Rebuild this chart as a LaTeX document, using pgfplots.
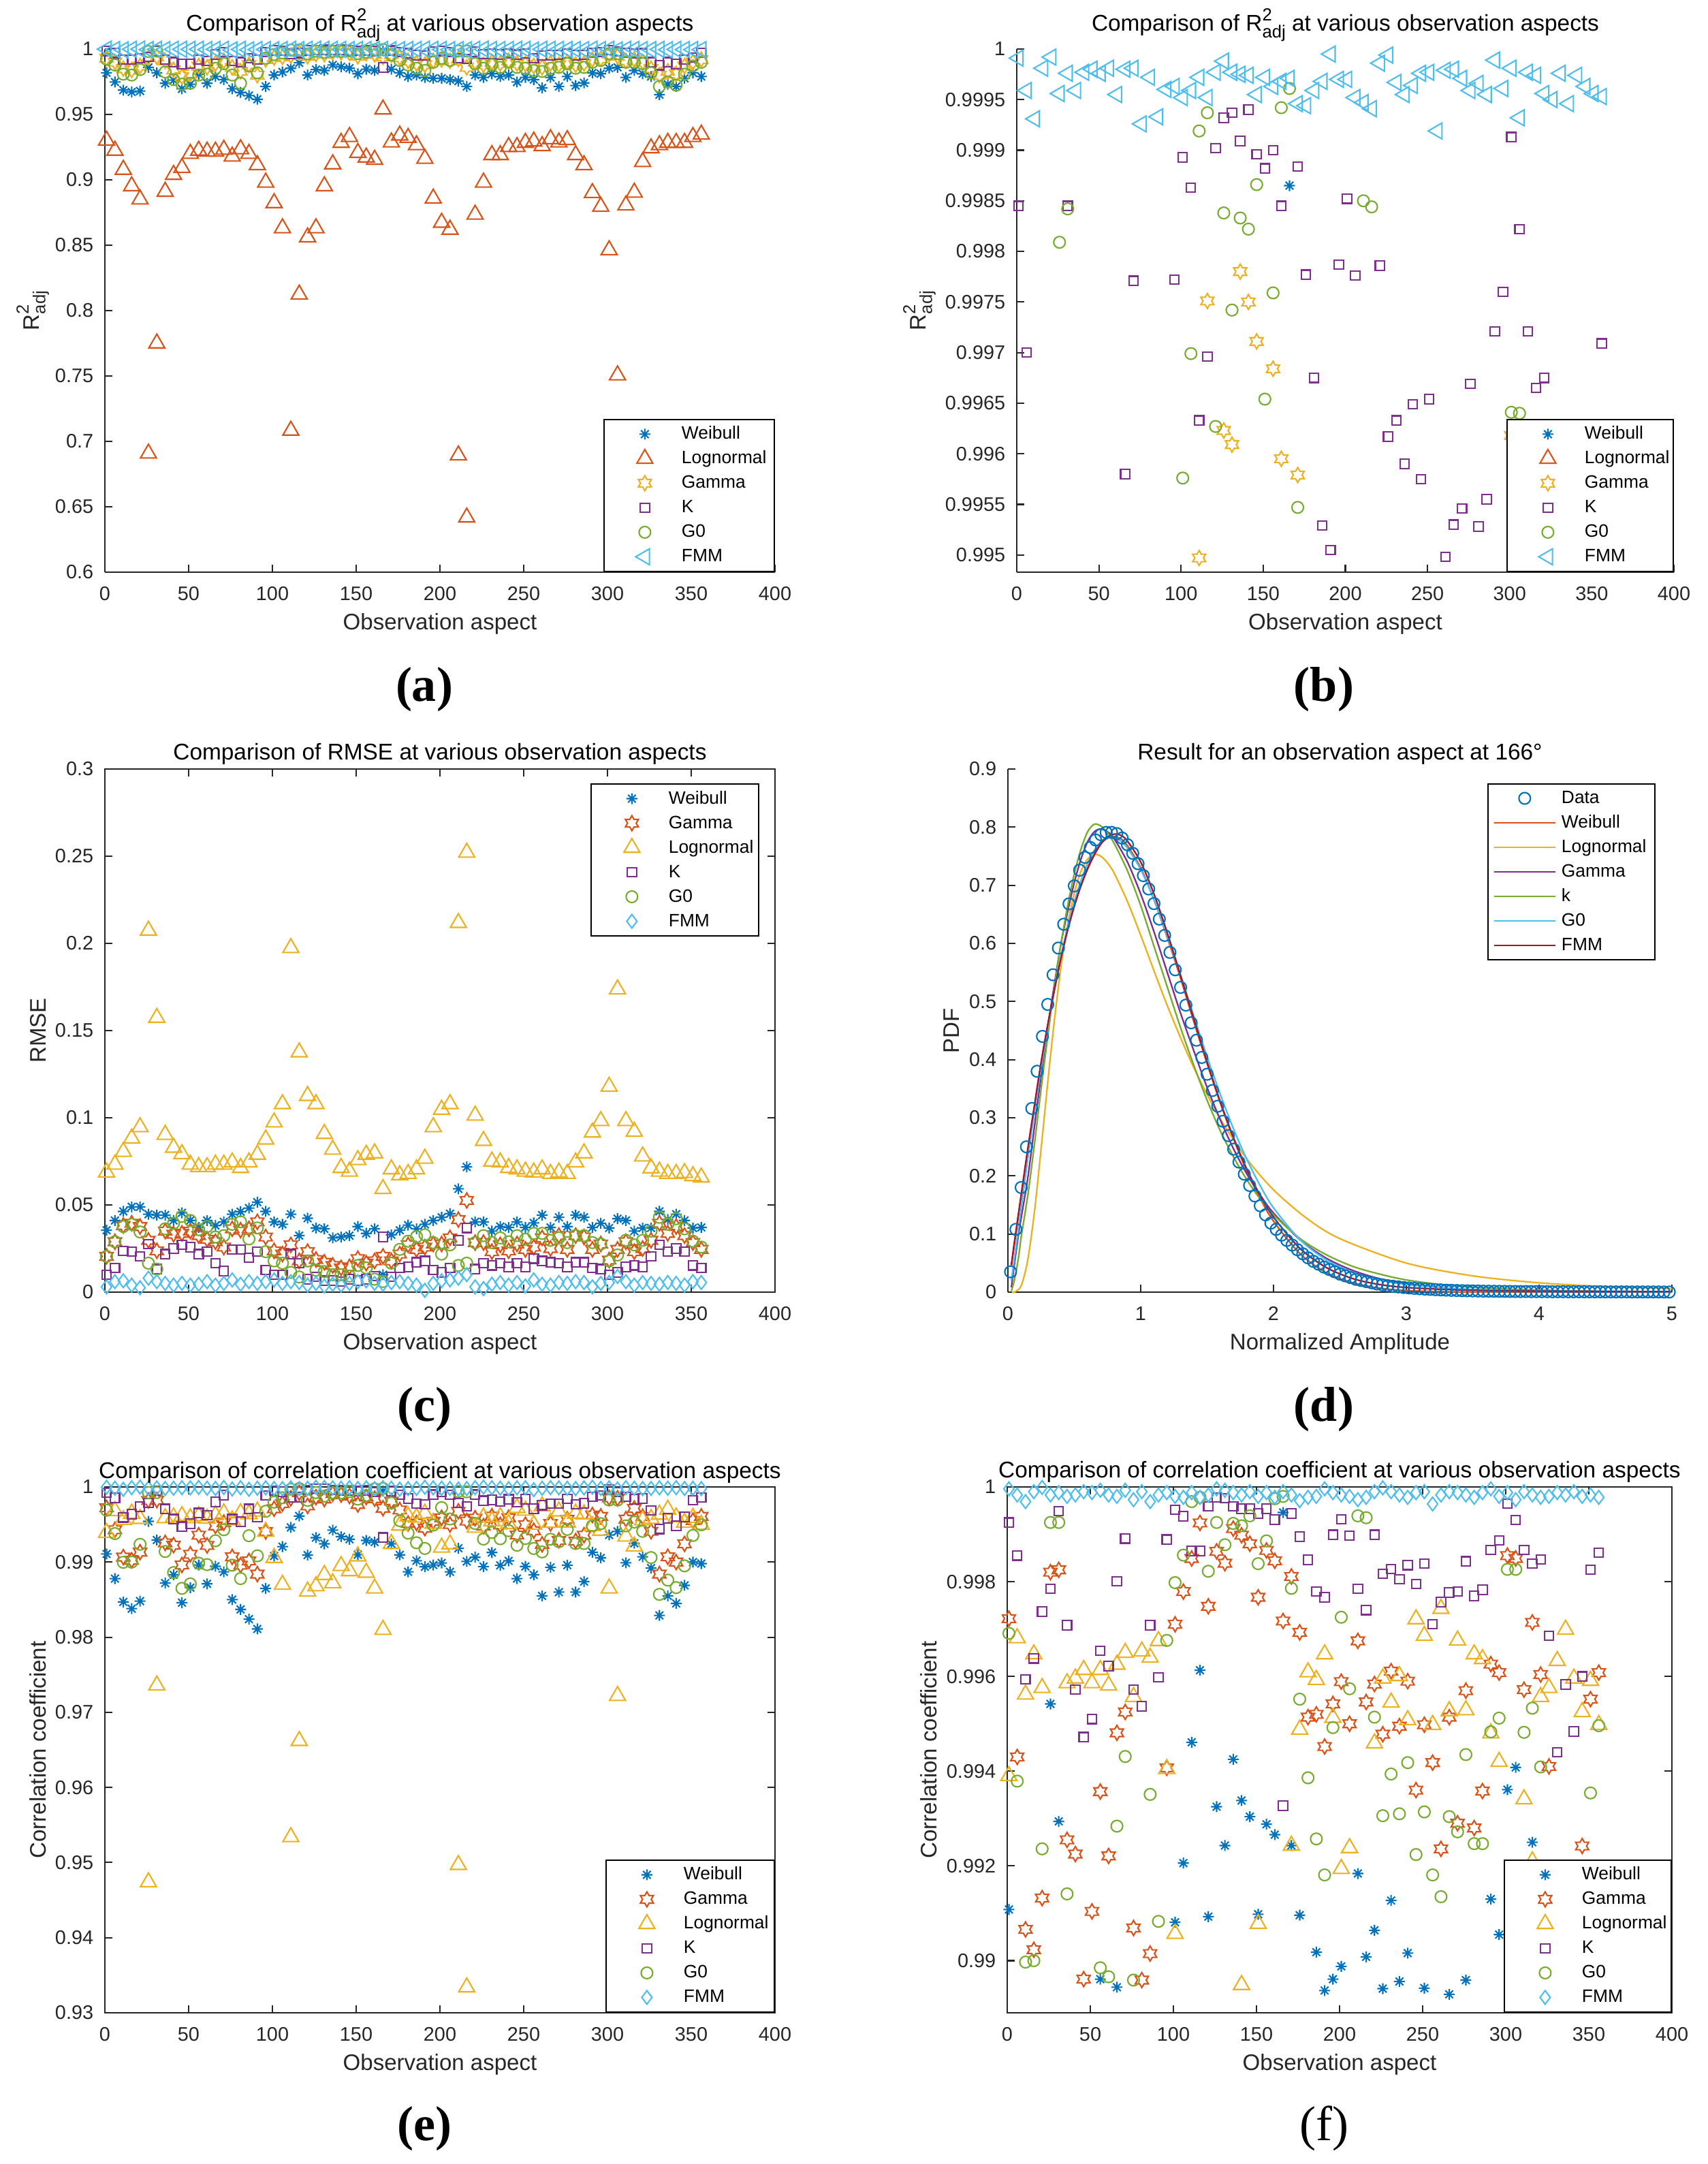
\documentclass[border=0pt]{standalone}
\usepackage{fontspec}
\setmainfont{Liberation Sans}
\newfontfamily\serifcap{Liberation Serif}
\usepackage{pgfplots}
\usepackage{pgfplotstable}
\pgfplotsset{compat=1.18}

\definecolor{cB}{HTML}{0072BD}
\definecolor{cO}{HTML}{D95319}
\definecolor{cY}{HTML}{EDB120}
\definecolor{cP}{HTML}{7E2F8E}
\definecolor{cG}{HTML}{77AC30}
\definecolor{cC}{HTML}{4DBEEE}
\definecolor{cR}{HTML}{A2142F}
\definecolor{axgray}{HTML}{262626}

\newcommand\tickfont{\fontsize{8.2}{9.8}\selectfont}
\newcommand\labfont{\fontsize{9.4}{11}\selectfont}
\newcommand\titfont{\fontsize{9.5}{11}\selectfont}
\newcommand\legfont{\fontsize{7.5}{9}\selectfont}
\newcommand\capfont{\serifcap\fontsize{20.5}{24}\selectfont}
\newcommand\Radj{R\rlap{\raisebox{1.5mm}{\fontsize{7.3}{8}\selectfont 2}}\raisebox{-0.95mm}{\fontsize{7.3}{8}\selectfont adj}}
\newcommand\LE[2]{\makebox[#1][l]{\rule[-1.05mm]{0pt}{3.6mm}#2}}

\pgfdeclareplotmark{mstar}{%
  \pgfpathmoveto{\pgfqpoint{0pt}{\pgfplotmarksize}}\pgfpathlineto{\pgfqpoint{0pt}{-\pgfplotmarksize}}%
  \pgfpathmoveto{\pgfqpoint{\pgfplotmarksize}{0pt}}\pgfpathlineto{\pgfqpoint{-\pgfplotmarksize}{0pt}}%
  \pgfpathmoveto{\pgfqpoint{0.7071\pgfplotmarksize}{0.7071\pgfplotmarksize}}\pgfpathlineto{\pgfqpoint{-0.7071\pgfplotmarksize}{-0.7071\pgfplotmarksize}}%
  \pgfpathmoveto{\pgfqpoint{-0.7071\pgfplotmarksize}{0.7071\pgfplotmarksize}}\pgfpathlineto{\pgfqpoint{0.7071\pgfplotmarksize}{-0.7071\pgfplotmarksize}}%
  \pgfusepathqstroke}
\pgfdeclareplotmark{hexagram}{%
  \pgfpathmoveto{\pgfqpoint{0pt}{\pgfplotmarksize}}%
  \pgfpathlineto{\pgfqpoint{-0.2887\pgfplotmarksize}{0.5\pgfplotmarksize}}%
  \pgfpathlineto{\pgfqpoint{-0.866\pgfplotmarksize}{0.5\pgfplotmarksize}}%
  \pgfpathlineto{\pgfqpoint{-0.5774\pgfplotmarksize}{0pt}}%
  \pgfpathlineto{\pgfqpoint{-0.866\pgfplotmarksize}{-0.5\pgfplotmarksize}}%
  \pgfpathlineto{\pgfqpoint{-0.2887\pgfplotmarksize}{-0.5\pgfplotmarksize}}%
  \pgfpathlineto{\pgfqpoint{0pt}{-\pgfplotmarksize}}%
  \pgfpathlineto{\pgfqpoint{0.2887\pgfplotmarksize}{-0.5\pgfplotmarksize}}%
  \pgfpathlineto{\pgfqpoint{0.866\pgfplotmarksize}{-0.5\pgfplotmarksize}}%
  \pgfpathlineto{\pgfqpoint{0.5774\pgfplotmarksize}{0pt}}%
  \pgfpathlineto{\pgfqpoint{0.866\pgfplotmarksize}{0.5\pgfplotmarksize}}%
  \pgfpathlineto{\pgfqpoint{0.2887\pgfplotmarksize}{0.5\pgfplotmarksize}}%
  \pgfpathclose\pgfusepathqstroke}

\pgfplotsset{
  common/.style={scale only axis, clip=false,
    axis line style={draw=axgray, line width=0.6pt},
    x axis line style={-}, y axis line style={-},
    tick style={draw=axgray, line width=0.6pt},
    major tick length=1.1mm, tick align=inside, minor tick num=0,
    tick label style={font=\tickfont, text=axgray},
    x tick label style={anchor=base, yshift=-4.2mm},
    y tick label style={anchor=east, xshift=-0.45mm},
    /pgf/number format/.cd, fixed, precision=4, assume math mode=true, /pgfplots/.cd,
    scaled ticks=false,
    label style={font=\labfont, text=axgray},
    every axis title/.style={font=\titfont, at={(axis description cs:0.5,1)}, anchor=base},
    x label style={at={(axis description cs:0.5,0)}, anchor=center, yshift=-7.6mm},
    legend cell align=left,
    legend style={draw=black, line width=0.6pt, fill=white, font=\legfont,
      inner xsep=0.9mm, inner ysep=0.35mm, row sep=0pt, nodes={inner sep=0pt, text depth=1.05mm}},
  },
  boxoff/.style={axis x line*=bottom, axis y line*=left},
  mkleg/.style={legend image code/.code={\path (0mm,-1mm) (10.3mm,1mm);
      \draw[mark repeat=2,mark phase=2,##1] plot coordinates {(0mm,0mm) (5mm,0mm) (10mm,0mm)};}},
  lnleg/.style={legend image code/.code={\path (0mm,-1mm) (9.8mm,1mm);
      \draw[mark repeat=2,mark phase=2,##1] plot coordinates {(0mm,0mm) (4.5mm,0mm) (9mm,0mm)};}},
  sW/.style={only marks, mark=mstar, color=cB, mark size=0.8mm, line width=0.6pt},
  sLa/.style={only marks, mark=triangle, color=cO, mark size=1.35mm, line width=0.6pt},
  sGa/.style={only marks, mark=hexagram, color=cY, mark size=1.1mm, line width=0.6pt},
  sK/.style={only marks, mark=square, color=cP, mark size=0.67mm, line width=0.6pt},
  sZ/.style={only marks, mark=o, color=cG, mark size=0.85mm, line width=0.6pt},
  sFa/.style={only marks, mark=triangle, mark options={rotate=90}, color=cC, mark size=1.35mm, line width=0.6pt},
  sGc/.style={only marks, mark=hexagram, color=cO, mark size=1.1mm, line width=0.6pt},
  sLc/.style={only marks, mark=triangle, color=cY, mark size=1.35mm, line width=0.6pt},
  sFc/.style={only marks, mark=diamond, color=cC, mark size=1.0mm, line width=0.6pt},
}

% R^2_adj : a W(Weibull) L(Lognormal) G(Gamma) K Z(G0) F(FMM)
\pgfplotstableread{
a W L G K Z F
1 0.9818 0.9301 0.9930 0.99845 0.9923 0.99991
6 0.9748 0.9224 0.9900 0.99700 0.9878 0.99959
11 0.9686 0.9078 0.9850 0.9918 0.9808 0.99931
16 0.9672 0.8952 0.9840 0.9920 0.9801 0.99981
21 0.9679 0.8851 0.9870 0.9930 0.9843 0.99992
26 0.9860 0.6908 0.9935 0.9940 0.99809 0.99956
31 0.9818 0.7750 0.9940 0.99845 0.99842 0.99976
36 0.9738 0.8910 0.9910 0.9920 0.9825 0.99959
41 0.9762 0.9039 0.9840 0.9900 0.9766 0.99977
46 0.9696 0.9092 0.9790 0.9885 0.9731 0.99980
51 0.9731 0.9200 0.9810 0.9888 0.9738 0.99976
56 0.9808 0.9224 0.9870 0.9920 0.9801 0.99981
61 0.9738 0.9217 0.9860 0.9910 0.9808 0.99955
66 0.9790 0.9217 0.9890 0.99580 0.9853 0.99980
71 0.9766 0.9231 0.9910 0.99771 0.9888 0.99981
76 0.9696 0.9179 0.9860 0.9910 0.9801 0.99926
81 0.9668 0.9235 0.9830 0.9900 0.9738 0.99972
86 0.9644 0.9200 0.9880 0.9930 0.9871 0.99933
91 0.9616 0.9113 0.9800 0.9920 0.9818 0.99960
96 0.9714 0.8980 0.9920 0.99772 0.9930 0.99963
101 0.9801 0.8823 0.9935 0.99893 0.99576 0.99952
106 0.9825 0.8631 0.9940 0.99863 0.99699 0.99959
111 0.9853 0.7083 0.99497 0.99633 0.99919 0.99972
116 0.9895 0.8124 0.99751 0.99696 0.99937 0.99952
121 0.9801 0.8561 0.9945 0.99902 0.99627 0.99977
126 0.9843 0.8631 0.99623 0.99932 0.99838 0.99988
131 0.9836 0.8952 0.99609 0.99937 0.99742 0.99977
136 0.9878 0.9120 0.99780 0.99909 0.99833 0.99975
141 0.9864 0.9284 0.99750 0.99940 0.99822 0.99974
146 0.9853 0.9329 0.99711 0.99896 0.99866 0.99955
151 0.9811 0.9207 0.9945 0.99882 0.99654 0.99972
156 0.9846 0.9172 0.99684 0.99900 0.99759 0.99963
161 0.9836 0.9155 0.99595 0.99845 0.99942 0.99968
166 0.99865 0.9539 0.9940 0.9860 0.99961 0.99971
171 0.9846 0.9287 0.99579 0.99884 0.99547 0.99946
176 0.9818 0.9340 0.9935 0.99777 0.9913 0.99944
181 0.9790 0.9322 0.9910 0.99675 0.9878 0.99959
186 0.9801 0.9266 0.9890 0.99529 0.9853 0.99968
191 0.9783 0.9162 0.9880 0.99505 0.9836 0.99995
196 0.9776 0.8858 0.9910 0.99787 0.9899 0.99970
201 0.9776 0.8673 0.9920 0.99852 0.9930 0.99970
206 0.9766 0.8620 0.9910 0.99776 0.9913 0.99952
211 0.9755 0.6894 0.9925 0.9930 0.99850 0.99947
216 0.9714 0.6419 0.9860 0.9925 0.99844 0.99941
221 0.9801 0.8735 0.9900 0.99786 0.9888 0.99986
226 0.9783 0.8980 0.9880 0.99617 0.9853 0.99994
231 0.9811 0.9190 0.9900 0.99633 0.9881 0.99967
236 0.9790 0.9190 0.9890 0.99590 0.9860 0.99955
241 0.9801 0.9252 0.9910 0.99649 0.9899 0.99964
246 0.9748 0.9252 0.9890 0.99575 0.9860 0.99976
251 0.9783 0.9284 0.9885 0.99654 0.9853 0.99977
256 0.9766 0.9294 0.9870 0.9930 0.9836 0.99919
261 0.9703 0.9259 0.9860 0.99498 0.9829 0.99979
266 0.9783 0.9312 0.9890 0.99530 0.9853 0.99980
271 0.9714 0.9287 0.9880 0.99546 0.9860 0.99971
276 0.9790 0.9305 0.9900 0.99669 0.9888 0.99959
281 0.9721 0.9190 0.9880 0.99528 0.9853 0.99966
286 0.9741 0.9113 0.9890 0.99555 0.9860 0.99955
291 0.9818 0.8900 0.9920 0.99721 0.9899 0.99989
296 0.9811 0.8795 0.9925 0.99760 0.9913 0.99961
301 0.9853 0.8463 0.99618 0.99913 0.99641 0.99981
306 0.9860 0.7506 0.9945 0.99822 0.99640 0.99932
311 0.9783 0.8805 0.9910 0.99721 0.9899 0.99977
316 0.9836 0.8903 0.9920 0.99665 0.9899 0.99974
321 0.9811 0.9137 0.9900 0.99675 0.9888 0.99956
326 0.9790 0.9242 0.9850 0.9900 0.9818 0.99950
331 0.9651 0.9266 0.9800 0.9876 0.9714 0.99976
336 0.9731 0.9284 0.9830 0.9900 0.9748 0.99946
341 0.9714 0.9284 0.9810 0.9885 0.9724 0.99974
346 0.9776 0.9284 0.9870 0.9920 0.9808 0.99963
351 0.9818 0.9329 0.9900 0.9935 0.9871 0.99956
356 0.9790 0.9347 0.9920 0.99709 0.9899 0.99953
}\Rtab

% RMSE : a W G L K Z F
\pgfplotstableread{
a W G L K Z F
1 0.0355 0.0205 0.0687 0.0100 0.0205 0.0030
6 0.0411 0.0289 0.0732 0.0139 0.0289 0.0060
11 0.0463 0.0382 0.0805 0.0237 0.0376 0.0065
16 0.0489 0.0395 0.0882 0.0232 0.0389 0.0040
21 0.0489 0.0376 0.0947 0.0205 0.0345 0.0025
26 0.0447 0.0297 0.2074 0.0276 0.0166 0.0080
31 0.0442 0.0237 0.1574 0.0132 0.0132 0.0060
36 0.0442 0.0350 0.0903 0.0218 0.0363 0.0050
41 0.0411 0.0332 0.0829 0.0250 0.0395 0.0040
46 0.0455 0.0337 0.0792 0.0271 0.0434 0.0050
51 0.0411 0.0350 0.0732 0.0258 0.0411 0.0040
56 0.0371 0.0324 0.0718 0.0218 0.0358 0.0045
61 0.0411 0.0303 0.0718 0.0232 0.0376 0.0060
66 0.0382 0.0289 0.0732 0.0166 0.0316 0.0040
71 0.0403 0.0258 0.0732 0.0121 0.0324 0.0050
76 0.0447 0.0363 0.0745 0.0245 0.0389 0.0070
81 0.0461 0.0355 0.0713 0.0245 0.0403 0.0045
86 0.0482 0.0363 0.0745 0.0197 0.0305 0.0060
91 0.0516 0.0403 0.0789 0.0232 0.0368 0.0050
96 0.0463 0.0316 0.0876 0.0126 0.0232 0.0060
101 0.0403 0.0237 0.0974 0.0100 0.0179 0.0070
106 0.0389 0.0218 0.1079 0.0100 0.0166 0.0050
111 0.0447 0.0271 0.1974 0.0218 0.0113 0.0060
116 0.0324 0.0179 0.1376 0.0166 0.0087 0.0055
121 0.0424 0.0232 0.1126 0.0074 0.0179 0.0040
126 0.0368 0.0187 0.1079 0.0087 0.0126 0.0050
131 0.0363 0.0171 0.0908 0.0066 0.0118 0.0035
136 0.0311 0.0153 0.0818 0.0066 0.0100 0.0045
141 0.0316 0.0139 0.0713 0.0061 0.0100 0.0040
146 0.0324 0.0145 0.0692 0.0074 0.0092 0.0050
151 0.0376 0.0192 0.0758 0.0066 0.0153 0.0060
156 0.0337 0.0166 0.0789 0.0074 0.0139 0.0065
161 0.0363 0.0179 0.0797 0.0092 0.0074 0.0050
166 0.0100 0.0205 0.0592 0.0316 0.0061 0.0045
171 0.0329 0.0179 0.0705 0.0087 0.0166 0.0055
176 0.0355 0.0218 0.0671 0.0139 0.0245 0.0060
181 0.0384 0.0271 0.0679 0.0145 0.0292 0.0050
186 0.0363 0.0245 0.0705 0.0171 0.0318 0.0040
191 0.0389 0.0258 0.0766 0.0179 0.0329 0.0010
196 0.0411 0.0276 0.0947 0.0126 0.0284 0.0050
201 0.0429 0.0276 0.1047 0.0113 0.0218 0.0065
206 0.0450 0.0311 0.1079 0.0139 0.0271 0.0070
211 0.0592 0.0416 0.2118 0.0297 0.0153 0.0080
216 0.0718 0.0526 0.2521 0.0368 0.0166 0.0100
221 0.0403 0.0284 0.1013 0.0132 0.0284 0.0030
226 0.0403 0.0284 0.0868 0.0166 0.0324 0.0020
231 0.0350 0.0232 0.0750 0.0153 0.0284 0.0045
236 0.0376 0.0271 0.0745 0.0166 0.0311 0.0055
241 0.0371 0.0237 0.0713 0.0145 0.0289 0.0040
246 0.0403 0.0276 0.0705 0.0166 0.0324 0.0055
251 0.0371 0.0245 0.0692 0.0145 0.0303 0.0035
256 0.0397 0.0258 0.0687 0.0192 0.0337 0.0070
261 0.0442 0.0311 0.0705 0.0179 0.0337 0.0045
266 0.0371 0.0250 0.0679 0.0171 0.0297 0.0040
271 0.0429 0.0324 0.0687 0.0166 0.0311 0.0055
276 0.0376 0.0245 0.0679 0.0145 0.0284 0.0050
281 0.0442 0.0324 0.0745 0.0171 0.0324 0.0060
286 0.0429 0.0316 0.0797 0.0171 0.0324 0.0055
291 0.0371 0.0245 0.0916 0.0139 0.0284 0.0030
296 0.0395 0.0276 0.0982 0.0132 0.0276 0.0050
301 0.0368 0.0184 0.1179 0.0100 0.0179 0.0055
306 0.0421 0.0245 0.1737 0.0113 0.0213 0.0090
311 0.0411 0.0289 0.0982 0.0145 0.0297 0.0060
316 0.0350 0.0232 0.0921 0.0153 0.0271 0.0040
321 0.0368 0.0250 0.0779 0.0145 0.0297 0.0055
326 0.0368 0.0297 0.0711 0.0205 0.0350 0.0050
331 0.0463 0.0395 0.0692 0.0271 0.0429 0.0045
336 0.0416 0.0337 0.0679 0.0232 0.0389 0.0055
341 0.0447 0.0376 0.0679 0.0250 0.0421 0.0050
346 0.0411 0.0324 0.0684 0.0232 0.0363 0.0040
351 0.0368 0.0284 0.0666 0.0153 0.0292 0.0060
356 0.0371 0.0245 0.0658 0.0139 0.0258 0.0055
}\Mtab

% Correlation coefficient : a W G L K Z F
\pgfplotstableread{
a W G L K Z F
1 0.99108 0.99722 0.99390 0.99925 0.99691 0.99996
6 0.9878 0.99430 0.99681 0.99855 0.99379 0.99983
11 0.9847 0.99066 0.99562 0.99594 0.98997 0.99969
16 0.9838 0.99023 0.99647 0.99638 0.99000 0.99990
21 0.9848 0.99132 0.99576 0.99737 0.99236 0.99999
26 0.99542 0.99820 0.9474 0.99785 0.99925 0.99983
31 0.99294 0.99825 0.9736 0.99949 0.99925 0.99988
36 0.9872 0.99255 0.99586 0.99708 0.99141 0.99980
41 0.9883 0.99225 0.99596 0.99572 0.9886 0.99983
46 0.9846 0.98961 0.99614 0.99472 0.9865 0.99990
51 0.9866 0.99104 0.99586 0.99510 0.9871 0.99988
56 0.98961 0.99357 0.99614 0.99654 0.98985 0.99993
61 0.9871 0.99221 0.99581 0.99622 0.98966 0.99983
66 0.98944 0.99481 0.99625 0.99801 0.99284 0.99980
71 0.9887 0.99525 0.99650 0.99891 0.99431 0.99993
76 0.9850 0.99069 0.99557 0.99572 0.98959 0.99973
81 0.9837 0.98959 0.99653 0.99537 0.9878 0.99990
86 0.9824 0.99015 0.99640 0.99708 0.99351 0.99969
91 0.9811 0.9884 0.99675 0.99598 0.99083 0.99983
96 0.9865 0.99407 0.99405 0.99889 0.99676 0.99988
101 0.99081 0.99710 0.99057 0.99952 0.99798 0.99980
106 0.99206 0.99779 0.9870 0.99938 0.99856 0.99978
111 0.99461 0.99849 0.9534 0.99865 0.99969 0.99988
116 0.99613 0.99924 0.9662 0.99865 0.99978 0.99978
121 0.99093 0.99748 0.9861 0.99959 0.99822 0.99983
126 0.99325 0.99864 0.9868 0.99978 0.99925 0.99996
131 0.99243 0.99839 0.9883 0.99976 0.99878 0.99993
136 0.99425 0.99912 0.9872 0.99959 0.99923 0.99988
141 0.99338 0.99898 0.98949 0.99954 0.99918 0.99983
146 0.99304 0.99880 0.9888 0.99954 0.99939 0.99990
151 0.99098 0.99767 0.99078 0.99944 0.99838 0.99980
156 0.99288 0.99866 0.9886 0.99954 0.99886 0.99988
161 0.99266 0.99844 0.9865 0.99931 0.99975 0.99978
166 0.99946 0.99717 0.9810 0.99327 0.99980 0.99990
171 0.99243 0.99811 0.99243 0.99944 0.99786 0.99983
176 0.99096 0.99693 0.99488 0.99895 0.99552 0.99971
181 0.9887 0.99514 0.99609 0.99846 0.99386 0.99978
186 0.99018 0.99520 0.99593 0.99779 0.99257 0.99980
191 0.98937 0.99452 0.99647 0.99767 0.99181 0.99996
196 0.98961 0.99542 0.99513 0.99899 0.99492 0.99988
201 0.98988 0.99589 0.99194 0.99932 0.99725 0.99983
206 0.9887 0.99500 0.99238 0.99897 0.99574 0.99980
211 0.99184 0.99675 0.9497 0.99785 0.99939 0.99973
216 0.99008 0.99546 0.9334 0.99740 0.99935 0.99978
221 0.99064 0.99584 0.99459 0.99899 0.99514 0.99990
226 0.98941 0.99478 0.99596 0.99817 0.99306 0.99998
231 0.99127 0.99611 0.99545 0.99827 0.99394 0.99990
236 0.98956 0.99495 0.99601 0.99805 0.99310 0.99983
241 0.99016 0.99590 0.99508 0.99835 0.99418 0.99978
246 0.9878 0.99360 0.99721 0.99795 0.99224 0.99988
251 0.98942 0.99498 0.99686 0.99838 0.99314 0.99990
256 0.9883 0.99418 0.99498 0.99710 0.99181 0.99964
261 0.9855 0.99236 0.99743 0.99757 0.99135 0.99983
266 0.98929 0.99514 0.99527 0.99777 0.99304 0.99990
271 0.9860 0.99290 0.99676 0.99779 0.99272 0.99988
276 0.98959 0.99570 0.99529 0.99843 0.99435 0.99983
281 0.9860 0.99280 0.99647 0.99770 0.99247 0.99978
286 0.9874 0.99358 0.99637 0.99783 0.99247 0.99988
291 0.99130 0.99626 0.99480 0.99867 0.99483 0.99996
296 0.99055 0.99608 0.99420 0.99887 0.99512 0.99980
301 0.99361 0.99855 0.9865 0.99965 0.99826 0.99988
306 0.99408 0.99849 0.9722 0.99930 0.99826 0.99973
311 0.9899 0.99572 0.99341 0.99867 0.99482 0.99990
316 0.99250 0.99714 0.9921 0.99838 0.99533 0.99983
321 0.9907 0.99604 0.99557 0.99847 0.99409 0.99978
326 0.9892 0.99410 0.99576 0.99686 0.9906 0.99980
331 0.9829 0.9884 0.99633 0.99440 0.9857 0.99988
336 0.9855 0.9907 0.99699 0.99583 0.9876 0.99983
341 0.9845 0.9900 0.99596 0.99484 0.9866 0.99990
346 0.9869 0.99242 0.99525 0.99600 0.9895 0.99980
351 0.9900 0.99552 0.99591 0.99825 0.99354 0.99983
356 0.9898 0.99608 0.99498 0.99861 0.99496 0.99978
}\Ctab

\begin{document}
\begin{tikzpicture}
\useasboundingbox (0,0) rectangle (250.8mm,317.7mm);
\fill[white] (0,0) rectangle (250.8mm,317.7mm);

% ---------------- (a)
\begin{axis}[common, boxoff, mkleg,
  at={(15.4mm,233.7mm)}, anchor=south west, width=98.4mm, height=76.8mm,
  xmin=0, xmax=400, ymin=0.6, ymax=1,
  xtick={0,50,...,400}, ytick={0.6,0.65,0.7,0.75,0.8,0.85,0.9,0.95,1},
  title={Comparison of \Radj{} at various observation aspects}, title style={yshift=2.6mm},
  xlabel={Observation aspect}, ylabel={\Radj},
  y label style={at={(axis description cs:-0.1077,0.5)}, anchor=center},
  legend style={at={(axis description cs:1,0)}, anchor=south east},
  legend entries={\LE{12.7mm}{Weibull},\LE{12.7mm}{Lognormal},\LE{12.7mm}{Gamma},\LE{12.7mm}{K},\LE{12.7mm}{G0},\LE{12.7mm}{FMM}}]
\addplot[sW] table[x=a,y=W]{\Rtab};
\addplot[sLa] table[x=a,y=L]{\Rtab};
\addplot[sGa] table[x=a,y=G]{\Rtab};
\addplot[sK] table[x=a,y=K]{\Rtab};
\addplot[sZ] table[x=a,y=Z]{\Rtab};
\addplot[sFa] table[x=a,y=F]{\Rtab};
\end{axis}

% ---------------- (b)
\begin{axis}[common, boxoff, mkleg,
  at={(149.3mm,233.7mm)}, anchor=south west, width=96.5mm, height=76.8mm,
  xmin=0, xmax=400, ymin=0.99483, ymax=1,
  restrict y to domain=0.99483:1.001,
  xtick={0,50,...,400}, ytick={0.995,0.9955,0.996,0.9965,0.997,0.9975,0.998,0.9985,0.999,0.9995,1},
  title={Comparison of \Radj{} at various observation aspects}, title style={yshift=2.6mm},
  xlabel={Observation aspect}, ylabel={\Radj},
  y label style={at={(axis description cs:-0.1482,0.5)}, anchor=center},
  legend style={at={(axis description cs:1,0)}, anchor=south east},
  legend entries={\LE{12.1mm}{Weibull},\LE{12.1mm}{Lognormal},\LE{12.1mm}{Gamma},\LE{12.1mm}{K},\LE{12.1mm}{G0},\LE{12.1mm}{FMM}}]
\addlegendimage{sW}
\addlegendimage{sLa}
\addlegendimage{sGa}
\addlegendimage{sK}
\addlegendimage{sZ}
\addlegendimage{sFa}
\addplot[sW, forget plot] table[x=a,y=W]{\Rtab};
\addplot[sLa, forget plot] table[x=a,y=L]{\Rtab};
\addplot[sGa, forget plot] table[x=a,y=G]{\Rtab};
\addplot[sK, forget plot] table[x=a,y=K]{\Rtab};
\addplot[sZ, forget plot] table[x=a,y=Z]{\Rtab};
\addplot[sFa, forget plot] table[x=a,y=F]{\Rtab};
\end{axis}

% ---------------- (c)
\begin{axis}[common, mkleg,
  at={(15.4mm,128.0mm)}, anchor=south west, width=98.4mm, height=76.8mm,
  xmin=0, xmax=400, ymin=0, ymax=0.3,
  xtick={0,50,...,400}, ytick={0,0.05,0.1,0.15,0.2,0.25,0.3},
  title={Comparison of RMSE at various observation aspects}, title style={yshift=1.3mm},
  xlabel={Observation aspect}, ylabel={RMSE},
  y label style={at={(axis description cs:-0.0996,0.5)}, anchor=center},
  legend style={at={(axis description cs:0.9766,0.9727)}, anchor=north east},
  legend entries={\LE{12.3mm}{Weibull},\LE{12.3mm}{Gamma},\LE{12.3mm}{Lognormal},\LE{12.3mm}{K},\LE{12.3mm}{G0},\LE{12.3mm}{FMM}}]
\addplot[sW] table[x=a,y=W]{\Mtab};
\addplot[sGc] table[x=a,y=G]{\Mtab};
\addplot[sLc] table[x=a,y=L]{\Mtab};
\addplot[sK] table[x=a,y=K]{\Mtab};
\addplot[sZ] table[x=a,y=Z]{\Mtab};
\addplot[sFc] table[x=a,y=F]{\Mtab};
\end{axis}

% ---------------- (d)
\begin{axis}[common, boxoff, lnleg,
  at={(148.0mm,128.0mm)}, anchor=south west, width=97.5mm, height=76.8mm,
  xmin=0, xmax=5, ymin=0, ymax=0.9,
  xtick={0,1,2,3,4,5}, ytick={0,0.1,0.2,0.3,0.4,0.5,0.6,0.7,0.8,0.9},
  title={Result for an observation aspect at 166°}, title style={yshift=1.4mm},
  xlabel={Normalized Amplitude}, ylabel={PDF},
  y label style={at={(axis description cs:-0.0851,0.5)}, anchor=center},
  legend style={at={(axis description cs:0.9754,0.9727)}, anchor=north east, inner xsep=0.8mm, inner ysep=0.3mm},
  legend entries={\LE{12.9mm}{Data},\LE{12.9mm}{Weibull},\LE{12.9mm}{Lognormal},\LE{12.9mm}{Gamma},\LE{12.9mm}{k},\LE{12.9mm}{G0},\LE{12.9mm}{FMM}}]
\addplot[only marks, mark=o, color=cB, mark size=0.85mm, line width=0.6pt] table {
x y
0.02 0.035
0.06 0.108
0.10 0.180
0.14 0.250
0.18 0.316
0.22 0.380
0.26 0.440
0.30 0.495
0.34 0.546
0.38 0.592
0.42 0.633
0.46 0.668
0.50 0.699
0.54 0.726
0.58 0.748
0.62 0.765
0.66 0.778
0.70 0.787
0.74 0.791
0.78 0.791
0.82 0.7889
0.86 0.7812
0.90 0.7698
0.94 0.7550
0.98 0.7371
1.02 0.7166
1.06 0.6936
1.10 0.6685
1.14 0.6418
1.18 0.6137
1.22 0.5845
1.26 0.5546
1.30 0.5243
1.34 0.4938
1.38 0.4634
1.42 0.4334
1.46 0.4038
1.50 0.3749
1.54 0.3469
1.58 0.3199
1.62 0.2940
1.66 0.2693
1.70 0.2459
1.74 0.2238
1.78 0.2030
1.82 0.1835
1.86 0.1654
1.90 0.1486
1.94 0.1330
1.98 0.1188
2.02 0.108
2.06 0.098
2.10 0.089
2.14 0.081
2.18 0.073
2.22 0.066
2.26 0.059
2.30 0.053
2.34 0.048
2.38 0.043
2.42 0.039
2.46 0.035
2.50 0.031
2.54 0.028
2.58 0.025
2.62 0.022
2.66 0.020
2.70 0.018
2.74 0.016
2.78 0.014
2.82 0.0125
2.86 0.011
2.90 0.010
2.94 0.009
2.98 0.008
3.02 0.0072
3.06 0.0065
3.10 0.0058
3.14 0.0052
3.18 0.0047
3.22 0.0042
3.26 0.0038
3.30 0.0034
3.34 0.0031
3.38 0.0028
3.42 0.0025
3.46 0.0023
3.50 0.0021
3.54 0.0019
3.58 0.0017
3.62 0.0016
3.66 0.0015
3.70 0.0014
3.74 0.0013
3.78 0.0012
3.82 0.0011
3.86 0.0010
3.90 0.0010
3.94 0.0009
3.98 0.0009
4.02 0.0008
4.06 0.0008
4.10 0.0007
4.14 0.0007
4.18 0.0007
4.22 0.0006
4.26 0.0006
4.30 0.0006
4.34 0.0005
4.38 0.0005
4.42 0.0005
4.46 0.0005
4.50 0.0004
4.54 0.0004
4.58 0.0004
4.62 0.0004
4.66 0.0004
4.70 0.0003
4.74 0.0003
4.78 0.0003
4.82 0.0003
4.86 0.0003
4.90 0.0003
4.94 0.0002
4.98 0.0002
};
\addplot[color=cO, line width=0.65pt, smooth] coordinates {
(0.026,0.045)(0.05,0.085)(0.1,0.165)(0.15,0.245)(0.2,0.32)(0.25,0.395)(0.3,0.46)(0.35,0.52)(0.4,0.575)(0.45,0.625)(0.5,0.665)(0.55,0.70)(0.6,0.73)(0.65,0.755)(0.7,0.772)(0.75,0.781)(0.8,0.784)(0.85,0.780)(0.9,0.768)(1.0,0.73)(1.1,0.675)(1.2,0.61)(1.3,0.54)(1.4,0.465)(1.5,0.393)(1.6,0.325)(1.7,0.263)(1.8,0.208)(1.9,0.161)(2.0,0.122)(2.2,0.066)(2.4,0.033)(2.6,0.0155)(2.8,0.0068)(3.0,0.0028)(3.3,0.0007)(3.6,0.0001)(4.0,0)(4.5,0)(5.0,0)};
\addplot[color=cY, line width=0.65pt, smooth] coordinates {
(0.03,0)(0.05,0.0003)(0.1,0.011)(0.15,0.056)(0.2,0.139)(0.25,0.247)(0.3,0.361)(0.35,0.468)(0.4,0.560)(0.45,0.633)(0.5,0.687)(0.55,0.724)(0.6,0.745)(0.65,0.753)(0.7,0.750)(0.75,0.7385)(0.8,0.721)(0.9,0.672)(1.0,0.614)(1.2,0.493)(1.4,0.386)(1.6,0.298)(1.8,0.229)(2.0,0.176)(2.25,0.127)(2.5,0.092)(3.0,0.050)(3.5,0.028)(4.0,0.016)(4.5,0.0096)(5.0,0.0059)};
\addplot[color=cP, line width=0.65pt, smooth] coordinates {
(0.026,0.008)(0.05,0.05)(0.08,0.10)(0.1,0.128)(0.15,0.197)(0.2,0.285)(0.25,0.372)(0.3,0.455)(0.35,0.53)(0.4,0.6)(0.45,0.655)(0.5,0.705)(0.55,0.745)(0.6,0.775)(0.65,0.792)(0.7,0.797)(0.75,0.792)(0.8,0.78)(0.9,0.74)(1.0,0.685)(1.1,0.62)(1.2,0.55)(1.3,0.48)(1.4,0.415)(1.5,0.352)(1.6,0.296)(1.7,0.246)(1.8,0.203)(1.9,0.167)(2.0,0.136)(2.2,0.09)(2.4,0.058)(2.6,0.037)(2.8,0.023)(3.0,0.0145)(3.3,0.007)(3.6,0.0033)(4.0,0.0012)(4.5,0.0003)(5.0,0.0001)};
\addplot[color=cG, line width=0.65pt, smooth] coordinates {
(0.026,0.002)(0.05,0.022)(0.08,0.06)(0.1,0.095)(0.15,0.167)(0.2,0.255)(0.25,0.35)(0.3,0.44)(0.35,0.525)(0.4,0.60)(0.45,0.665)(0.5,0.72)(0.55,0.762)(0.6,0.792)(0.65,0.805)(0.7,0.802)(0.75,0.79)(0.8,0.772)(0.9,0.725)(1.0,0.665)(1.1,0.595)(1.2,0.525)(1.3,0.455)(1.4,0.39)(1.5,0.33)(1.6,0.277)(1.7,0.232)(1.8,0.193)(1.9,0.16)(2.0,0.133)(2.2,0.092)(2.4,0.064)(2.6,0.044)(2.8,0.031)(3.0,0.021)(3.3,0.012)(3.6,0.007)(4.0,0.0035)(4.5,0.0014)(5.0,0.0006)};
\addplot[color=cC, line width=0.65pt, smooth] coordinates {
(0.026,0.02)(0.05,0.06)(0.1,0.145)(0.15,0.23)(0.2,0.31)(0.25,0.385)(0.3,0.455)(0.35,0.52)(0.4,0.578)(0.45,0.63)(0.5,0.672)(0.55,0.708)(0.6,0.738)(0.65,0.76)(0.7,0.775)(0.75,0.782)(0.8,0.782)(0.85,0.776)(0.9,0.764)(1.0,0.727)(1.1,0.675)(1.2,0.613)(1.3,0.545)(1.4,0.475)(1.5,0.405)(1.6,0.34)(1.7,0.28)(1.8,0.228)(1.9,0.183)(2.0,0.145)(2.2,0.09)(2.4,0.055)(2.6,0.034)(2.8,0.021)(3.0,0.013)(3.3,0.007)(3.6,0.004)(4.0,0.0022)(4.5,0.0012)(5.0,0.0007)};
\addplot[color=cR, line width=0.65pt, smooth] coordinates {
(0.026,0.047)(0.05,0.088)(0.1,0.168)(0.15,0.247)(0.2,0.322)(0.25,0.395)(0.3,0.46)(0.35,0.52)(0.4,0.575)(0.45,0.623)(0.5,0.664)(0.55,0.699)(0.6,0.728)(0.65,0.752)(0.7,0.771)(0.75,0.783)(0.8,0.788)(0.85,0.786)(0.9,0.776)(1.0,0.74)(1.1,0.685)(1.2,0.618)(1.3,0.545)(1.4,0.47)(1.5,0.396)(1.6,0.327)(1.7,0.265)(1.8,0.211)(1.9,0.166)(2.0,0.129)(2.2,0.075)(2.4,0.042)(2.6,0.023)(2.8,0.013)(3.0,0.008)(3.3,0.0045)(3.6,0.0028)(4.0,0.0018)(4.5,0.0012)(5.0,0.0008)};
\end{axis}

% ---------------- (e)
\begin{axis}[common, mkleg,
  at={(15.4mm,22.2mm)}, anchor=south west, width=98.4mm, height=77.2mm,
  xmin=0, xmax=400, ymin=0.93, ymax=1,
  xtick={0,50,...,400}, ytick={0.93,0.94,0.95,0.96,0.97,0.98,0.99,1},
  title={Comparison of correlation coefficient at various observation aspects}, title style={yshift=1.3mm},
  xlabel={Observation aspect}, ylabel={Correlation coefficient},
  y label style={at={(axis description cs:-0.0996,0.5)}, anchor=center},
  legend style={at={(axis description cs:1,0)}, anchor=south east},
  legend entries={\LE{12.4mm}{Weibull},\LE{12.4mm}{Gamma},\LE{12.4mm}{Lognormal},\LE{12.4mm}{K},\LE{12.4mm}{G0},\LE{12.4mm}{FMM}}]
\addplot[sW] table[x=a,y=W]{\Ctab};
\addplot[sGc] table[x=a,y=G]{\Ctab};
\addplot[sLc] table[x=a,y=L]{\Ctab};
\addplot[sK] table[x=a,y=K]{\Ctab};
\addplot[sZ] table[x=a,y=Z]{\Ctab};
\addplot[sFc] table[x=a,y=F]{\Ctab};
\end{axis}

% ---------------- (f)
\begin{axis}[common, mkleg,
  at={(147.9mm,22.2mm)}, anchor=south west, width=97.6mm, height=77.2mm,
  xmin=0, xmax=400, ymin=0.9889, ymax=1,
  restrict y to domain=0.9889:1.001,
  xtick={0,50,...,400}, ytick={0.99,0.992,0.994,0.996,0.998,1},
  title={Comparison of correlation coefficient at various observation aspects}, title style={yshift=1.3mm},
  xlabel={Observation aspect}, ylabel={Correlation coefficient},
  y label style={at={(axis description cs:-0.1178,0.5)}, anchor=center},
  legend style={at={(axis description cs:1,0)}, anchor=south east},
  legend entries={\LE{12.2mm}{Weibull},\LE{12.2mm}{Gamma},\LE{12.2mm}{Lognormal},\LE{12.2mm}{K},\LE{12.2mm}{G0},\LE{12.2mm}{FMM}}]
\addlegendimage{sW}
\addlegendimage{sGc}
\addlegendimage{sLc}
\addlegendimage{sK}
\addlegendimage{sZ}
\addlegendimage{sFc}
\addplot[sW, forget plot] table[x=a,y=W]{\Ctab};
\addplot[sGc, forget plot] table[x=a,y=G]{\Ctab};
\addplot[sLc, forget plot] table[x=a,y=L]{\Ctab};
\addplot[sK, forget plot] table[x=a,y=K]{\Ctab};
\addplot[sZ, forget plot] table[x=a,y=Z]{\Ctab};
\addplot[sFc, forget plot] table[x=a,y=F]{\Ctab};
\end{axis}

% captions
\node[font=\capfont\bfseries] at (62.3mm,216.5mm) {(a)};
\node[font=\capfont\bfseries] at (194.4mm,216.5mm) {(b)};
\node[font=\capfont\bfseries] at (62.3mm,110.8mm) {(c)};
\node[font=\capfont\bfseries] at (194.4mm,110.8mm) {(d)};
\node[font=\capfont\bfseries] at (62.3mm,5.2mm) {(e)};
\node[font=\capfont] at (194.4mm,5.2mm) {(f)};
\end{tikzpicture}
\end{document}
